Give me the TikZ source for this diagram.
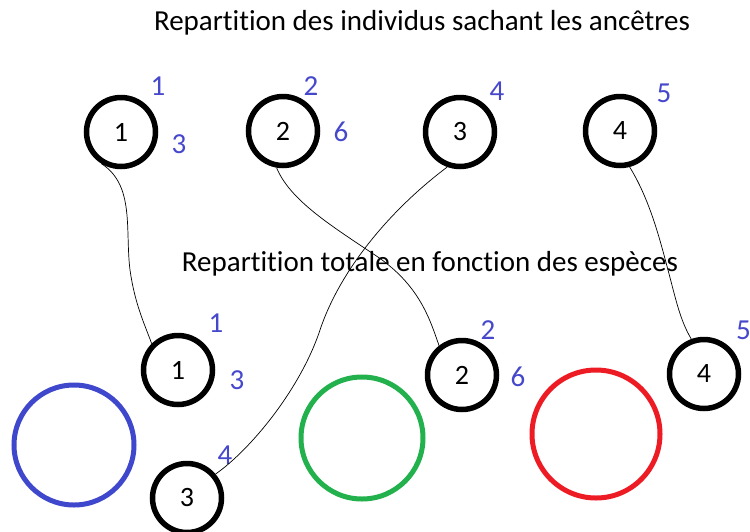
\documentclass[tikz,border=0pt]{standalone}
\usepackage{fontspec}
\setmainfont[RawFeature={-liga;-clig;-calt;-dlig}]{Carlito}
\definecolor{lblue}{RGB}{70,72,204}
\definecolor{pblue}{RGB}{63,72,204}
\definecolor{pgreen}{RGB}{34,177,76}
\definecolor{pred}{RGB}{237,28,36}
\begin{document}
\begin{tikzpicture}[x=1pt,y=-1pt,
  ind/.style={circle,draw=black,line width=5.5pt,minimum size=69pt,inner sep=0pt,font=\fontsize{28}{28}\selectfont},
  grp/.style={circle,line width=5pt,inner sep=0pt},
  lab/.style={text=lblue,font=\fontsize{29}{29}\selectfont,inner sep=0pt},
  title/.style={font=\fontsize{29}{29}\selectfont,inner sep=0pt},
  link/.style={line width=0.7pt}]
\useasboundingbox (0,0) rectangle (750,531);
\node[title] (t1) at (422,23) {Repartition des individus sachant les ancêtres};
\node[title] (t2) at (430,264) {Repartition totale en fonction des espèces};
% top row
\node[ind] (a1) at (121,132) {1};
\node[ind] (a2) at (283,131) {2};
\node[ind] (a3) at (460,132) {3};
\node[ind] (a4) at (620,131) {4};
\node[lab] (la1) at (158,86) {1};
\node[lab] (lb1) at (179,144) {3};
\node[lab] (la2) at (311,86) {2};
\node[lab] (lb2) at (341,132) {6};
\node[lab] (la3) at (497,91) {4};
\node[lab] (la4) at (664,93) {5};
% bottom row
\node[ind] (b1) at (178,370) {1};
\node[ind] (b2) at (462,375) {2};
\node[ind] (b3) at (187,498) {3};
\node[ind] (b4) at (704,374) {4};
\node[lab] (lc1) at (216,323) {1};
\node[lab] (ld1) at (237,380) {3};
\node[lab] (lc2) at (488,330) {2};
\node[lab] (ld2) at (518,377) {6};
\node[lab] (lc3) at (225,455) {4};
\node[lab,anchor=west] (lc4) at (736,330) {5};
% groups
\node[grp,draw=pblue,minimum size=120pt] (g1) at (74,445) {};
\node[grp,draw=pgreen,minimum size=122pt] (g2) at (362,438) {};
\node[grp,draw=pred,minimum size=128pt] (g3) at (596,434) {};
% links
\draw[link] (a1.-122) .. controls (135,185) and (125,230) .. (130,270) .. controls (135,305) and (145,325) .. (b1.135);
\draw[link] (a2.-100) .. controls (290,200) and (330,225) .. (375,255) .. controls (420,285) and (430,320) .. (b2.128);
\draw[link] (a3.-110) .. controls (390,210) and (340,270) .. (320,330) .. controls (300,390) and (250,450) .. (b3.40);
\draw[link] (a4.-75) .. controls (650,200) and (660,240) .. (668,270) .. controls (676,300) and (680,320) .. (b4.110);
\end{tikzpicture}
\end{document}
